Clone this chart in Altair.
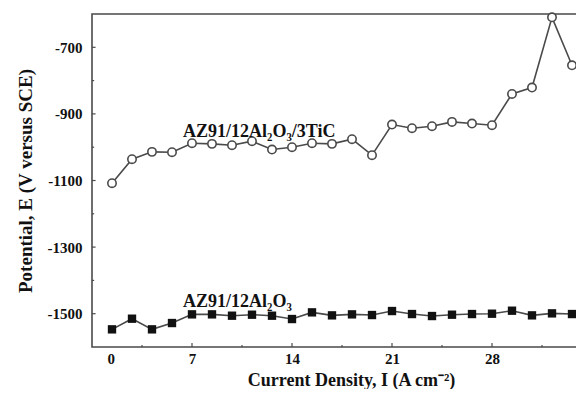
import altair as alt
import pandas as pd

# Data
current = [1.4, 2.8, 4.2, 5.6, 7.0, 8.4, 9.8, 11.2, 12.6, 14.0, 15.4, 16.8,
           18.2, 19.6, 21.0, 22.4, 23.8, 25.2, 26.6, 28.0, 29.4, 30.8, 32.2, 33.6]
tic_series = [-1108, -1036, -1014, -1015, -988, -990, -994, -982, -1007, -1000,
              -988, -990, -976, -1024, -932, -943, -937, -924, -929, -934,
              -840, -821, -610, -754]
al_series = [-1547, -1515, -1547, -1528, -1502, -1502, -1506, -1503, -1506, -1516,
             -1496, -1505, -1502, -1504, -1492, -1501, -1507, -1503, -1501, -1500,
             -1491, -1505, -1499, -1501]

series_names = ["AZ91/12Al₂O₃/3TiC", "AZ91/12Al₂O₃"]
label_x = [6.37, 6.37]
label_y = [-969, -1480]

x_major = [7, 14, 21, 28]
x_minor = [3.5, 10.5, 17.5, 24.5, 31.5]
y_major = [-700, -900, -1100, -1300, -1500]
y_minor = [-800, -1000, -1200, -1400]

FONT = "Liberation Serif"
GREY = "#4a4a4a"

df = pd.DataFrame({
    "I": current * 2,
    "E": tic_series + al_series,
    "series": [series_names[0]] * len(current) + [series_names[1]] * len(current),
})
labels = pd.DataFrame({"I": label_x, "E": label_y, "text": series_names})

xscale = alt.Scale(domain=[0, 35], nice=False, zero=False)
yscale = alt.Scale(domain=[-1600, -600], nice=False, zero=False)

xaxis = alt.Axis(
    title="Current Density, I (A cm⁻²)",
    values=[0, 7, 14, 21, 28, 35], format="d",
    ticks=False, domain=False, grid=False,
    labelPadding=4, titlePadding=5, titleFontSize=18,
    titleX=259, titleAlign="center",
    labelOffset={"condition": {"test": "datum.value === 0", "value": 15}, "value": 0},
)
yaxis = alt.Axis(
    title="Potential, E (V versus SCE)",
    values=y_major,
    labelExpr="datum.value < 0 ? '-' + abs(datum.value) : '' + datum.value",
    ticks=False, domain=False, grid=False,
    labelPadding=10, titlePadding=12, titleFontSize=19,
)

base = alt.Chart(df)

line = base.mark_line(color=GREY, strokeWidth=1.6).encode(
    x=alt.X("I:Q", scale=xscale, axis=xaxis),
    y=alt.Y("E:Q", scale=yscale, axis=yaxis),
    detail="series:N",
)
circles = base.transform_filter(alt.datum.series == series_names[0]).mark_point(
    shape="circle", filled=True, fill="white", stroke=GREY, strokeWidth=1.6, size=70, opacity=1
).encode(x=alt.X("I:Q", scale=xscale), y=alt.Y("E:Q", scale=yscale))
squares = base.transform_filter(alt.datum.series == series_names[1]).mark_point(
    shape="square", filled=True, color="#111111", size=70, opacity=1
).encode(x=alt.X("I:Q", scale=xscale), y=alt.Y("E:Q", scale=yscale))

text = alt.Chart(labels).mark_text(
    font=FONT, fontWeight="bold", fontSize=18, align="left", baseline="alphabetic", color="#111111"
).encode(x=alt.X("I:Q", scale=xscale), y=alt.Y("E:Q", scale=yscale), text="text:N")

# inward tick marks
xt_major = alt.Chart(pd.DataFrame({"I": x_major})).mark_rule(color=GREY, strokeWidth=1.2).encode(
    x=alt.X("I:Q", scale=xscale), y=alt.datum(-1600, scale=yscale), y2=alt.datum(-1588))
xt_minor = alt.Chart(pd.DataFrame({"I": x_minor})).mark_rule(color=GREY, strokeWidth=1.2).encode(
    x=alt.X("I:Q", scale=xscale), y=alt.datum(-1600, scale=yscale), y2=alt.datum(-1594))
yt_major = alt.Chart(pd.DataFrame({"E": y_major})).mark_rule(color=GREY, strokeWidth=1.2).encode(
    y=alt.Y("E:Q", scale=yscale), x=alt.datum(0, scale=xscale), x2=alt.datum(0.25))
yt_minor = alt.Chart(pd.DataFrame({"E": y_minor})).mark_rule(color=GREY, strokeWidth=1.2).encode(
    y=alt.Y("E:Q", scale=yscale), x=alt.datum(0, scale=xscale), x2=alt.datum(0.15))

chart = alt.layer(
    xt_major, xt_minor, yt_major, yt_minor, line, circles, squares, text
).properties(
    width=500, height=333,
    background="white",
    autosize=alt.AutoSizeParams(type="none"),
    padding={"left": 84, "top": 6, "right": -16, "bottom": 42},
).configure_view(
    stroke=GREY, strokeWidth=1.6
).configure_axis(
    labelFont=FONT, labelFontWeight="bold", labelFontSize=15, labelColor="#111111",
    titleFont=FONT, titleFontWeight="bold", titleFontSize=18, titleColor="#111111",
)

chart.save("out.html", embed_options={"renderer": "svg", "actions": False})
